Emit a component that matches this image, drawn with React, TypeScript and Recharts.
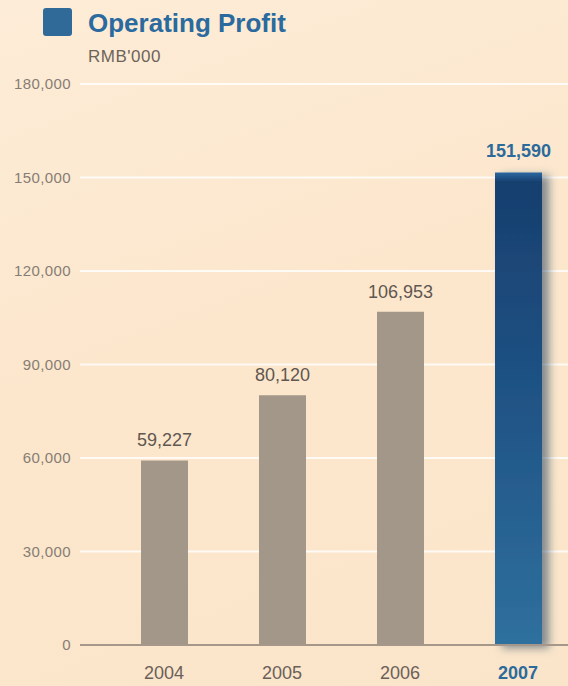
import React from 'react';
import { BarChart, Bar, XAxis, YAxis, CartesianGrid, Cell, LabelList } from 'recharts';

const years = ['2004', '2005', '2006', '2007'];
const operatingProfit = [59227, 80120, 106953, 151590];
const yTicks = [0, 30000, 60000, 90000, 120000, 150000, 180000];

const data = years.map((year, i) => ({ year, value: operatingProfit[i] }));
const lastIdx = years.length - 1;

const FONT = '"Liberation Sans", Arial, Helvetica, sans-serif';
const BLUE = '#2b6b9c';

const fmt = (v: number) => v.toLocaleString('en-US');

const XTick = (props: any) => {
  const { x, y, payload } = props;
  const hi = payload.index === lastIdx || payload.value === years[lastIdx];
  return (
    <text x={x} y={y + 32} textAnchor="middle" fontFamily={FONT} fontSize={18}
      fontWeight={hi ? 'bold' : 'normal'} fill={hi ? BLUE : '#6a6058'}>
      {payload.value}
    </text>
  );
};

const ValueLabel = (props: any) => {
  const { x, y, width, value, index } = props;
  const hi = index === lastIdx || value === operatingProfit[lastIdx];
  return (
    <text x={x + width / 2} y={y - (hi ? 16 : 14)} textAnchor="middle" fontFamily={FONT}
      fontSize={18} fontWeight={hi ? 'bold' : 'normal'} fill={hi ? BLUE : '#5f5750'}>
      {fmt(value)}
    </text>
  );
};

export default function App() {
  return (
    <div
      style={{
        position: 'absolute',
        top: 0,
        left: 0,
        width: 568,
        height: 686,
        overflow: 'hidden',
        background: 'linear-gradient(160deg, #fdecd7 0%, #fce7cd 45%, #fbe5ca 100%)',
      }}
    >
      <BarChart width={600} height={686} data={data} margin={{ top: 84, right: 23, bottom: 0, left: 0 }}>
        <defs>
          <linearGradient id="blueBar" x1="0" y1="0" x2="0" y2="1">
            <stop offset="0%" stopColor="#2b67a0" />
            <stop offset="2%" stopColor="#173f6e" />
            <stop offset="45%" stopColor="#1f5284" />
            <stop offset="100%" stopColor="#2f709e" />
          </linearGradient>
          <filter id="barShadow" x="-30%" y="-10%" width="170%" height="120%">
            <feDropShadow dx="7" dy="3" stdDeviation="4" floodColor="#1d3c5c" floodOpacity="0.55" />
          </filter>
        </defs>
        <CartesianGrid vertical={false} stroke="#ffffff" strokeOpacity={0.8} strokeWidth={2} />
        <XAxis
          dataKey="year"
          height={41}
          padding={{ left: 25, right: 0 }}
          tickLine={false}
          tickSize={0}
          axisLine={{ stroke: '#a5988a', strokeWidth: 2 }}
          tick={<XTick />}
          interval={0}
        />
        <YAxis
          width={80}
          domain={[0, 180000]}
          ticks={yTicks}
          tickFormatter={fmt}
          axisLine={false}
          tickLine={false}
          tickSize={0}
          tickMargin={9}
          tick={{ fontFamily: FONT, fontSize: 15, fill: '#877d74', letterSpacing: 0.4 }}
        />
        <Bar dataKey="value" barSize={47} isAnimationActive={false}>
          {data.map((d, i) => (
            <Cell
              key={d.year}
              fill={i === lastIdx ? 'url(#blueBar)' : '#a39789'}
              filter={i === lastIdx ? 'url(#barShadow)' : undefined}
            />
          ))}
          <LabelList dataKey="value" content={<ValueLabel />} />
        </Bar>
      </BarChart>
      <svg width={568} height={80} style={{ position: 'absolute', top: 0, left: 0 }}>
        <rect x={43} y={8} width={29} height={28} rx={3} fill="#306a99" />
        <text x={88} y={32} fontFamily={FONT} fontSize={26} fontWeight="bold" fill="#2a6a9e">
          Operating Profit
        </text>
        <text x={88} y={62} fontFamily={FONT} fontSize={17} fill="#6d635a" letterSpacing={0.5}>
          RMB'000
        </text>
      </svg>
    </div>
  );
}
